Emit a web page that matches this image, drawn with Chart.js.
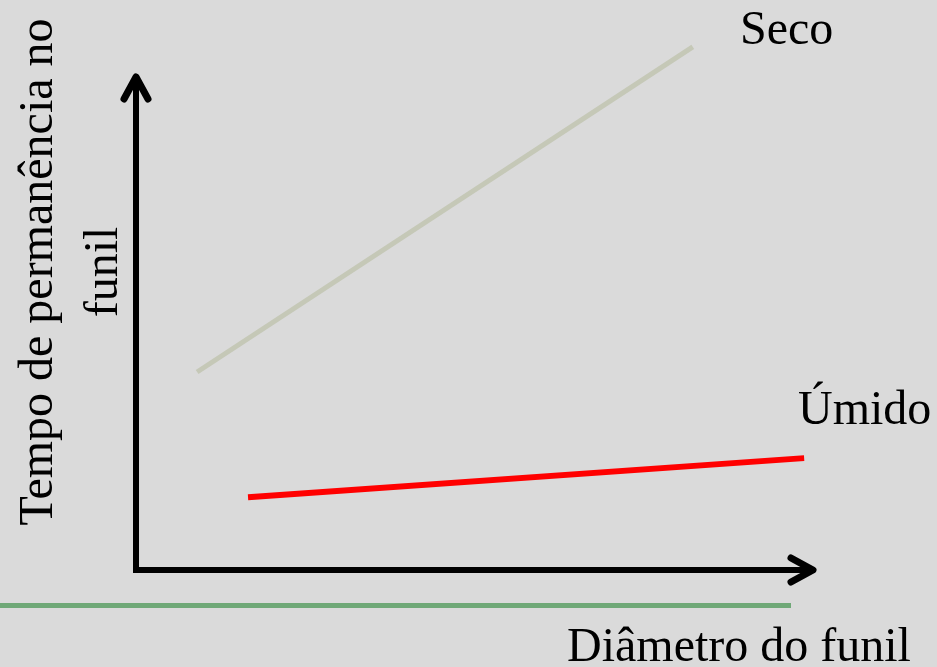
<!DOCTYPE html>
<html>
<head>
<meta charset="utf-8">
<script src="https://cdn.jsdelivr.net/npm/chart.js@4"></script>
<style>
html,body{margin:0;padding:0;background:#dadada;}
#wrap{width:937px;height:667px;position:relative;}
</style>
</head>
<body>
<div id="wrap"><canvas id="c" width="937" height="667"></canvas></div>
<script>
// Schematic data (arbitrary units: x = diâmetro do funil, y = tempo de permanência)
const secoX = [0.9, 8.2];
const secoY = [4.0, 10.57];
const umidoX = [1.65, 9.84];
const umidoY = [1.47, 2.26];
const seriesLabels = ["Seco", "Úmido"];
const xTitle = "Diâmetro do funil";
const yTitleLines = ["Tempo de permanência no", "funil"];

const FONT = '48px "Liberation Serif", "Times New Roman", serif';

const decor = {
  id: 'decor',
  beforeDraw(chart) {
    const ctx = chart.ctx;
    ctx.save();
    ctx.fillStyle = '#dadada';
    ctx.fillRect(0, 0, chart.width, chart.height);
    ctx.restore();
  },
  afterDraw(chart) {
    const ctx = chart.ctx;
    const a = chart.chartArea;
    ctx.save();
    // green rule
    ctx.strokeStyle = '#6fa877';
    ctx.lineWidth = 5;
    ctx.beginPath();
    ctx.moveTo(0, 605.5);
    ctx.lineTo(791, 605.5);
    ctx.stroke();
    // axes
    ctx.strokeStyle = '#000';
    ctx.lineWidth = 6;
    ctx.lineCap = 'butt';
    ctx.beginPath();
    ctx.moveTo(a.left, a.top + 3);
    ctx.lineTo(a.left, a.bottom);
    ctx.lineTo(a.right - 3, a.bottom);
    ctx.stroke();
    ctx.lineCap = 'round';
    ctx.lineJoin = 'round';
    ctx.lineWidth = 7;
    ctx.beginPath();
    ctx.moveTo(a.left - 12, a.top + 24);
    ctx.lineTo(a.left, a.top + 2);
    ctx.lineTo(a.left + 12, a.top + 24);
    ctx.stroke();
    ctx.beginPath();
    ctx.moveTo(a.right - 24, a.bottom - 12);
    ctx.lineTo(a.right - 2, a.bottom);
    ctx.lineTo(a.right - 24, a.bottom + 12);
    ctx.stroke();
    // texts
    ctx.fillStyle = '#000';
    ctx.font = FONT;
    ctx.textBaseline = 'alphabetic';
    ctx.textAlign = 'left';
    ctx.fillText(seriesLabels[0], 740, 44);
    ctx.fillText(seriesLabels[1], 798, 424);
    ctx.fillText(xTitle, 567, 661);
    ctx.translate(0, 272);
    ctx.rotate(-Math.PI / 2);
    ctx.textAlign = 'center';
    ctx.fillText(yTitleLines[0], 0, 52);
    ctx.fillText(yTitleLines[1], 0, 117);
    ctx.restore();
  }
};

new Chart(document.getElementById('c'), {
  type: 'line',
  data: {
    datasets: [
      {
        label: seriesLabels[0],
        data: secoX.map((x, i) => ({x, y: secoY[i]})),
        borderColor: '#c5c8b7',
        borderWidth: 5,
        pointRadius: 0,
        clip: false,
        borderCapStyle: 'butt'
      },
      {
        label: seriesLabels[1],
        data: umidoX.map((x, i) => ({x, y: umidoY[i]})),
        borderColor: '#ff0000',
        borderWidth: 6,
        pointRadius: 0,
        clip: false,
        borderCapStyle: 'butt'
      }
    ]
  },
  options: {
    responsive: false,
    animation: false,
    layout: { padding: { left: 136, right: 122, top: 75, bottom: 97 } },
    plugins: { legend: { display: false }, tooltip: { enabled: false } },
    scales: {
      x: { type: 'linear', min: 0, max: 10, display: false },
      y: { type: 'linear', min: 0, max: 10, display: false }
    }
  },
  plugins: [decor]
});
</script>
</body>
</html>
